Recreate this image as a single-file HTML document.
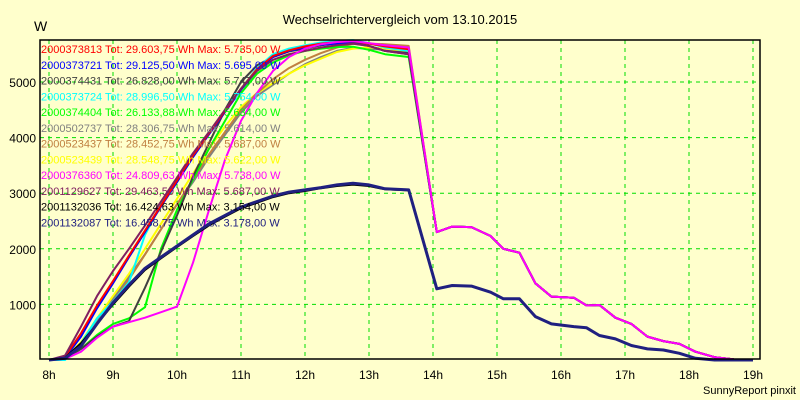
<!DOCTYPE html>
<html><head><meta charset="utf-8"><style>
html,body{margin:0;padding:0;background:#ffffcc;}
svg{display:block;font-family:"Liberation Sans",Arial,sans-serif;}
</style></head><body>
<svg id="chart" width="800" height="400" viewBox="0 0 800 400" xmlns="http://www.w3.org/2000/svg">
<rect x="0" y="0" width="800" height="400" fill="#ffffcc"/>
<text x="400" y="24" text-anchor="middle" font-size="13" fill="#000">Wechselrichtervergleich vom 13.10.2015</text>
<text x="34" y="31" font-size="14" fill="#000">W</text>
<text x="796" y="394" text-anchor="end" font-size="11" fill="#000">SunnyReport pinxit</text>
<g id="grid"></g><g id="series"></g><g id="axes"></g><g id="legend"></g>
</svg>
<script>
const times=[8,8.25,8.5,8.75,9,9.25,9.5,9.75,10,10.25,10.5,10.75,11,11.25,11.5,11.75,12,12.25,12.5,12.75,13,13.25,13.62,14.06,14.3,14.6,14.9,15.1,15.35,15.6,15.85,16.2,16.4,16.6,16.85,17.1,17.35,17.6,17.85,18.1,18.4,18.7,19];
const mainTail=[2300,2400,2390,2230,2000,1930,1380,1140,1120,980,990,760,650,420,340,290,150,50,10,0];
const lowTail=[1280,1340,1330,1220,1100,1100,780,650,600,580,440,380,260,200,180,120,30,0,0,0];
const red=[0,60,480,980,1420,1880,2330,2780,3230,3680,4080,4480,4880,5230,5470,5570,5640,5690,5720,5735,5690,5640,5590];
const blue=[0,40,420,930,1380,1850,2300,2760,3200,3650,4060,4460,4860,5210,5450,5560,5620,5670,5690,5695,5650,5560,5500];
const darkgray=[0,30,200,420,600,700,1300,1950,2600,3300,3900,4500,5000,5300,5450,5550,5600,5660,5700,5710,5650,5560,5520];
const cyan=[0,0,300,750,1050,1400,2250,2800,3200,3650,4070,4480,4880,5250,5500,5600,5660,5710,5740,5754,5700,5620,5560];
const green=[0,20,200,450,650,750,950,2000,2700,3250,3800,4300,4800,5150,5350,5480,5560,5600,5630,5634,5580,5500,5450];
const gray=[0,30,300,700,1100,1500,1900,2350,2800,3200,3650,4050,4450,4750,4950,5150,5320,5450,5560,5614,5600,5580,5550];
const brown=[0,30,280,650,1050,1450,1900,2350,2800,3250,3700,4100,4500,4800,5050,5250,5400,5520,5620,5687,5690,5680,5650];
const yellow=[0,30,320,750,1150,1550,2000,2450,2900,3350,3800,4200,4550,4800,4980,5150,5300,5420,5540,5600,5622,5600,5560];
const magenta=[0,20,150,400,600,680,760,860,960,1750,2700,3600,4300,4800,5200,5450,5600,5680,5720,5738,5700,5660,5620];
const purple=[0,80,600,1150,1600,2000,2420,2850,3280,3720,4100,4500,4880,5200,5400,5500,5560,5620,5660,5687,5650,5560,5500];
const navy=[0,30,250,650,1030,1350,1650,1850,2050,2250,2450,2600,2750,2850,2950,3020,3060,3100,3150,3178,3150,3080,3060];
const black=[0,40,300,650,1000,1320,1620,1830,2030,2230,2420,2580,2730,2830,2930,3000,3040,3090,3130,3154,3130,3070,3050];
const xTicks=[8,9,10,11,12,13,14,15,16,17,18,19];
const yTicks=[1000,2000,3000,4000,5000];
const legendLabels=["2000373813 Tot: 29.603,75 Wh Max: 5.735,00 W","2000373721 Tot: 29.125,50 Wh Max: 5.695,00 W","2000374431 Tot: 26.828,00 Wh Max: 5.747,00 W","2000373724 Tot: 28.996,50 Wh Max: 5.754,00 W","2000374404 Tot: 26.133,88 Wh Max: 5.634,00 W","2000502737 Tot: 28.306,75 Wh Max: 5.614,00 W","2000523437 Tot: 28.452,75 Wh Max: 5.687,00 W","2000523439 Tot: 28.548,75 Wh Max: 5.622,00 W","2000376360 Tot: 24.809,63 Wh Max: 5.738,00 W","2001129627 Tot: 29.463,50 Wh Max: 5.687,00 W","2001132036 Tot: 16.424,63 Wh Max: 3.154,00 W","2001132087 Tot: 16.458,75 Wh Max: 3.178,00 W"];
const NS="http://www.w3.org/2000/svg";
const X0=40,X1=760,Y0=359,Y1=40;
function xs(h){return 49+64*(h-8);}
function ys(v){return 360-v*0.0556;}
function mk(tag,parent){const e=document.createElementNS(NS,tag);parent.appendChild(e);return e;}
const grid=document.getElementById('grid'),axes=document.getElementById('axes'),ser=document.getElementById('series'),leg=document.getElementById('legend');
xTicks.forEach(t=>{
 const l=mk('line',grid);
 
 
 l.setAttribute('x1',xs(t));l.setAttribute('x2',xs(t));l.setAttribute('y1',Y1);l.setAttribute('y2',Y0);
 l.setAttribute('stroke','#00dd00');l.setAttribute('stroke-dasharray','4,4');
 const tx=mk('text',axes);
 
 
 tx.setAttribute('x',xs(t));tx.setAttribute('y',379);tx.setAttribute('text-anchor','middle');tx.setAttribute('font-size','12');
 tx.textContent=t+'h';
});
yTicks.forEach(v=>{
 const l=mk('line',grid);
 
 
 l.setAttribute('x1',X0);l.setAttribute('x2',X1);l.setAttribute('y1',ys(v));l.setAttribute('y2',ys(v));
 l.setAttribute('stroke','#00dd00');l.setAttribute('stroke-dasharray','4,4');
 const tx=mk('text',axes);
 
 
 tx.setAttribute('x',36);tx.setAttribute('y',ys(v)+5);tx.setAttribute('text-anchor','end');tx.setAttribute('font-size','12');
 tx.textContent=v;
});
const frame=mk('rect',axes);


frame.setAttribute('x',X0);frame.setAttribute('y',Y1);frame.setAttribute('width',X1-X0);frame.setAttribute('height',Y0-Y1);
frame.setAttribute('fill','none');frame.setAttribute('stroke','#000');frame.setAttribute('stroke-width','1.5');
const seriesDefs=[
 {n:'series-2000502737',v:gray.concat(mainTail),c:'#808080',li:5,w:2},
 {n:'series-2000523439',v:yellow.concat(mainTail),c:'#ffff00',li:7,w:2},
 {n:'series-2000523437',v:brown.concat(mainTail),c:'#c08040',li:6,w:2},
 {n:'series-2000374404',v:green.concat(mainTail),c:'#00ff00',li:4,w:2},
 {n:'series-2000374431',v:darkgray.concat(mainTail),c:'#404040',li:2,w:2},
 {n:'series-2000373724',v:cyan.concat(mainTail),c:'#00ffff',li:3,w:2},
 {n:'series-2000373721',v:blue.concat(mainTail),c:'#0000ff',li:1,w:2},
 {n:'series-2000373813',v:red.concat(mainTail),c:'#ff0000',li:0,w:2},
 {n:'series-2001129627',v:purple.concat(mainTail),c:'#802060',li:9,w:2},
 {n:'series-2000376360',v:magenta.concat(mainTail),c:'#ff00ff',li:8,w:2},
 {n:'series-2001132036',v:black.concat(lowTail),c:'#000000',li:10,w:2},
 {n:'series-2001132087',v:navy.concat(lowTail),c:'#202080',li:11,w:3}
];
const legendColors=[];
seriesDefs.forEach(s=>{
 legendColors[s.li]=s.c;
 const p=mk('polyline',ser);
 
 
 p.setAttribute('points',s.v.map((v,i)=>xs(times[i]).toFixed(1)+','+ys(v).toFixed(1)).join(' '));
 p.setAttribute('fill','none');p.setAttribute('stroke',s.c);p.setAttribute('stroke-width',s.w);p.setAttribute('stroke-linejoin','round');
});
legendLabels.forEach((t,i)=>{
 const tx=mk('text',leg);
 
 
 tx.setAttribute('x',41);tx.setAttribute('y',53+i*15.75);tx.setAttribute('font-size','11');
 tx.setAttribute('fill',legendColors[i]);
 tx.textContent=t;
});
</script>
</body></html>
